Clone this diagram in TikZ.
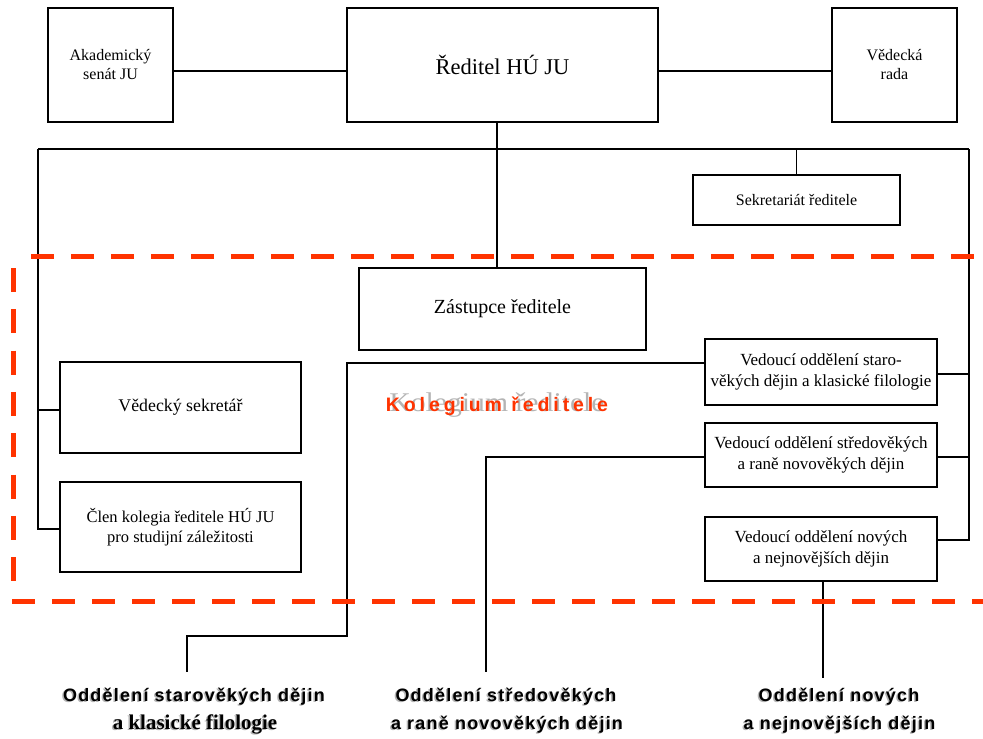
\documentclass[tikz,border=0pt]{standalone}
\usepackage{fontspec}
\setmainfont{Liberation Serif}
\newfontfamily\lsfont[LetterSpace=6.7]{Liberation Sans}
\newfontfamily\kolfont[LetterSpace=20]{Liberation Sans}
\usetikzlibrary{calc}
\definecolor{dashred}{HTML}{FF3300}
\definecolor{shadowgray}{HTML}{B4B4B4}
\tikzset{
  box/.style={draw, line width=1.2pt, inner sep=0pt, align=center,
    font=\fontsize{17}{20.5}\selectfont},
  conn/.style={line width=1.2pt},
  kolline/.style={draw=dashred, line width=5pt, dash pattern=on 23pt off 17pt},
  kolvline/.style={draw=dashred, line width=5pt, dash pattern=on 24pt off 17.3pt},
  lbl/.style={anchor=base, inner sep=0pt},
  lblsans/.style={lbl, font=\lsfont\bfseries\fontsize{18}{22}\selectfont},
  lblserif/.style={lbl, font=\bfseries\fontsize{21}{24}\selectfont},
}
\newcommand{\shadowlabel}[4]{% name, position, style, text
  \node[#3, text=shadowgray] at ($#2+(-1.5,1)$) {#4};
  \node[#3] (#1) at #2 {#4};
}
\begin{document}
\begin{tikzpicture}[x=1pt,y=-1pt]
\useasboundingbox (0,0) rectangle (983,739);
\fill[white] (0,0) rectangle (983,739);

% top row
\node[box, minimum width=125pt, minimum height=114pt, font=\fontsize{16}{19}\selectfont] (aks) at (110.5,65) {Akademický\\senát JU};
\node[box, minimum width=311pt, minimum height=114pt, font=\fontsize{22.5}{26}\selectfont] (red) at (502.5,65) {Ředitel HÚ JU};
\node[box, minimum width=125pt, minimum height=114pt, font=\fontsize{16}{19}\selectfont] (vr) at (894.5,65) {Vědecká\\rada};

\node[box, minimum width=207pt, minimum height=50pt, font=\fontsize{16}{20}\selectfont] (sek) at (796.5,200) {Sekretariát ředitele};
\node[box, minimum width=287pt, minimum height=82pt, font=\fontsize{20}{24}\selectfont] (zas) at (502.5,309) {Zástupce ředitele};

\node[box, minimum width=241pt, minimum height=91pt, font=\fontsize{17.8}{21}\selectfont] (vsek) at (180.5,407.5) {Vědecký sekretář};
\node[box, minimum width=241pt, minimum height=90pt, font=\fontsize{16.5}{20}\selectfont] (clen) at (180.5,527) {Člen kolegia ředitele HÚ JU\\pro studijní záležitosti};

\node[box, minimum width=232pt, minimum height=66pt] (vs1) at (821,372) {Vedoucí oddělení staro-\\věkých dějin a klasické filologie};
\node[box, minimum width=232pt, minimum height=64pt] (vs2) at (821,455) {Vedoucí oddělení středověkých\\a raně novověkých dějin};
\node[box, minimum width=232pt, minimum height=64pt] (vs3) at (821,549) {Vedoucí oddělení nových\\a nejnovějších dějin};

% Kolegium label
\node[lbl, text=shadowgray, font=\fontsize{27}{30}\selectfont] (kolsh) at (497,411) {\scalebox{1.1}[1]{Kolegium ředitele}};
\node[lbl, text=dashred, font=\kolfont\bfseries\fontsize{19.5}{24}\selectfont] (kol) at (497,411) {Kolegium ředitele};

% bus coordinates
\coordinate (busL) at (38,149);
\coordinate (busR) at (969,149);
\coordinate (o1) at (187,672);
\coordinate (o2) at (486,672);
\coordinate (o3) at (823,678);

% connectors
\draw[conn] ([yshift=-6pt]aks.east) -- ([yshift=-6pt]red.west);
\draw[conn] ([yshift=-6pt]red.east) -- ([yshift=-6pt]vr.west);
\draw[conn] ([xshift=-5.5pt]red.south) -- ([xshift=-5.5pt]zas.north);
\draw[conn] (busL) -- (busR);
\draw[conn] (sek.north) -- (sek.north |- busR);
\draw[conn] (busL) |- ([yshift=-2.5pt]vsek.west);
\draw[conn] (busL) |- ([yshift=-2pt]clen.west);
\draw[conn] (busR) |- ([yshift=-2pt]vs1.east);
\draw[conn] (busR) |- ([yshift=-2pt]vs2.east);
\draw[conn] (busR) |- ([yshift=9pt]vs3.east);
\draw[conn] ([yshift=9pt]vs1.west) -| (347,636) -| (o1);
\draw[conn] ([yshift=-2pt]vs2.west) -| (o2);
\draw[conn] ([xshift=2pt]vs3.south) -- (o3);

% dashed frame
\draw[kolline] (31,256) -- (990,256);
\draw[kolvline] (13,268) -- (13,583);
\draw[kolline] (12,601) -- (990,601);

% bottom labels
\shadowlabel{l1a}{(194,701)}{lblsans}{Oddělení starověkých dějin}
\shadowlabel{l1b}{(195,729)}{lblserif}{a klasické filologie}
\shadowlabel{l2a}{(506,701)}{lblsans}{Oddělení středověkých}
\shadowlabel{l2b}{(507,729)}{lblsans}{a raně novověkých dějin}
\shadowlabel{l3a}{(839,701)}{lblsans}{Oddělení nových}
\shadowlabel{l3b}{(839.5,729)}{lblsans}{a nejnovějších dějin}
\end{tikzpicture}
\end{document}
